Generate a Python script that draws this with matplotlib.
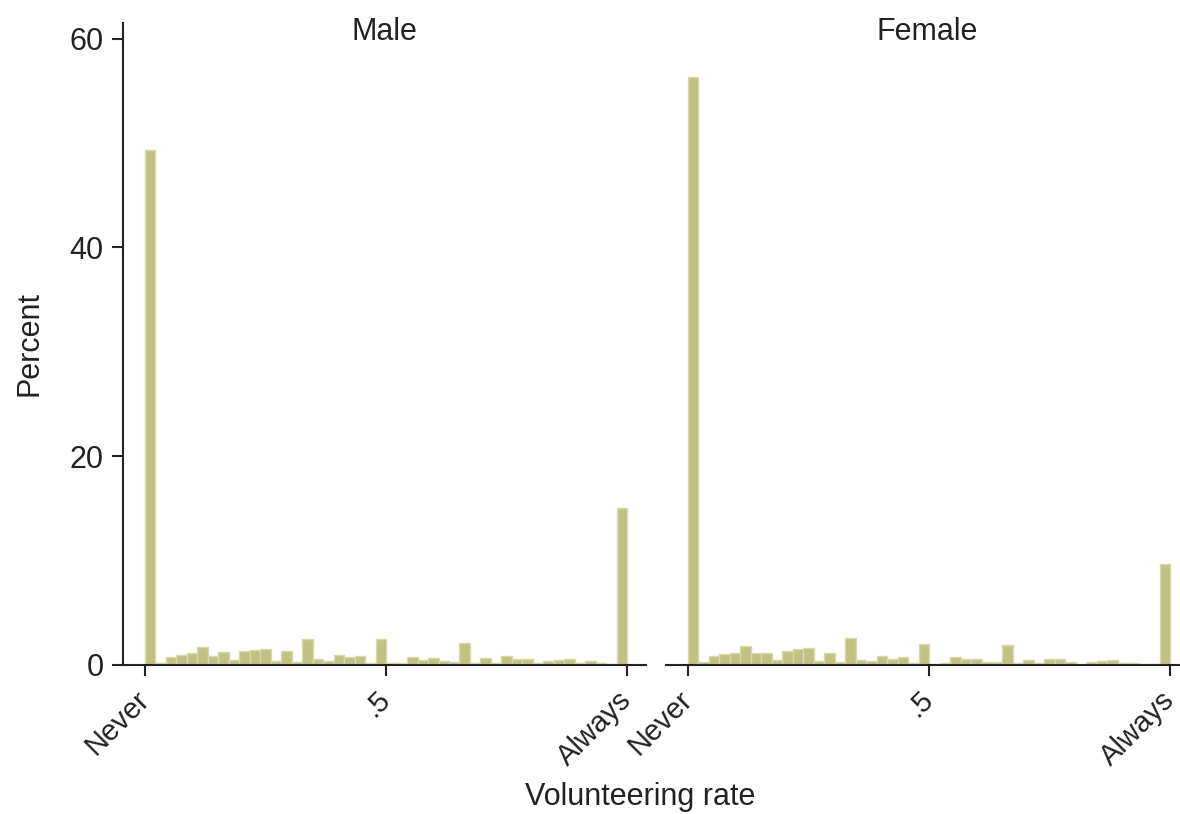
import matplotlib.pyplot as plt
import numpy as np

# percent of respondents per volunteering-rate bin (46 equal bins on [0, 1])
male_pct = [49.3, 0.2, 0.77, 1.0, 1.15, 1.7, 0.83, 1.25, 0.48, 1.3, 1.4, 1.53,
            0.42, 1.34, 0.29, 2.52, 0.58, 0.42, 0.96, 0.77, 0.86, 0.2, 2.52,
            0.15, 0.15, 0.77, 0.48, 0.64, 0.35, 0.26, 2.08, 0.16, 0.67, 0.16,
            0.83, 0.6, 0.6, 0.16, 0.38, 0.45, 0.6, 0.19, 0.38, 0.19, 0.13, 15.0]
female_pct = [56.3, 0.32, 0.9, 1.09, 1.15, 1.82, 1.15, 1.15, 0.48, 1.31, 1.5, 1.63,
              0.42, 1.15, 0.29, 2.59, 0.51, 0.38, 0.83, 0.58, 0.74, 0.19, 2.05,
              0.13, 0.19, 0.74, 0.58, 0.6, 0.26, 0.26, 1.88, 0.16, 0.48, 0.16,
              0.54, 0.54, 0.32, 0.13, 0.26, 0.35, 0.45, 0.16, 0.16, 0.1, 0.06, 9.7]
panels = ["Male", "Female"]
x_ticks = [0, 0.5, 1]
x_ticklabels = ["Never", ".5", "Always"]
y_ticks = [0, 20, 40, 60]

FONT = ["Liberation Sans Narrow", "Liberation Sans", "DejaVu Sans"]
plt.rcParams["font.family"] = FONT

BAR = "#c2c184"
EDGE = "#d8d8ad"
INK = "#222222"

fig = plt.figure(figsize=(11.8, 8.14), dpi=100)
W, H = 1180, 814
ax_w = 523 / W
ax_b = 1 - 665 / H
ax_h = (665 - 23) / H
lefts = [123 / W, 666 / W]

edges = np.linspace(0, 1, len(male_pct) + 1)
width = edges[1] - edges[0]

for i, (name, vals) in enumerate(zip(panels, [male_pct, female_pct])):
    ax = fig.add_axes([lefts[i], ax_b, ax_w, ax_h])
    ax.bar(edges[:-1], vals, width=width, align="edge", color=BAR,
           edgecolor=EDGE, linewidth=1.0)
    ax.set_xlim(-0.0456, 1.039)
    ax.set_ylim(0, 61.5)
    for s in ["top", "right"]:
        ax.spines[s].set_visible(False)
    ax.spines["bottom"].set_color(INK)
    ax.spines["bottom"].set_linewidth(1.5)
    ax.spines["left"].set_color(INK)
    ax.spines["left"].set_linewidth(1.5)
    ax.set_xticks(x_ticks)
    ax.set_xticklabels(x_ticklabels, rotation=45, ha="right", va="center",
                       rotation_mode="anchor", fontsize=21, color=INK)
    ax.tick_params(axis="x", length=8, width=1.5, color=INK, pad=14)
    if i == 0:
        ax.set_yticks(y_ticks)
        ax.set_yticklabels([str(v) for v in y_ticks], fontsize=22, color=INK)
        ax.tick_params(axis="y", length=8, width=1.5, color=INK, pad=6)
        ax.set_ylabel("Percent", fontsize=22, color=INK, labelpad=18)
    else:
        ax.spines["left"].set_visible(False)
        ax.set_yticks([])
    ax.text(0.5, 1 - 9 / 642, name, transform=ax.transAxes, ha="center",
            va="center", fontsize=22, color=INK)

fig.text(640 / W, 1 - 797 / H, "Volunteering rate", ha="center", va="center",
         fontsize=22, color=INK)

fig.savefig("out.png", dpi=100)
